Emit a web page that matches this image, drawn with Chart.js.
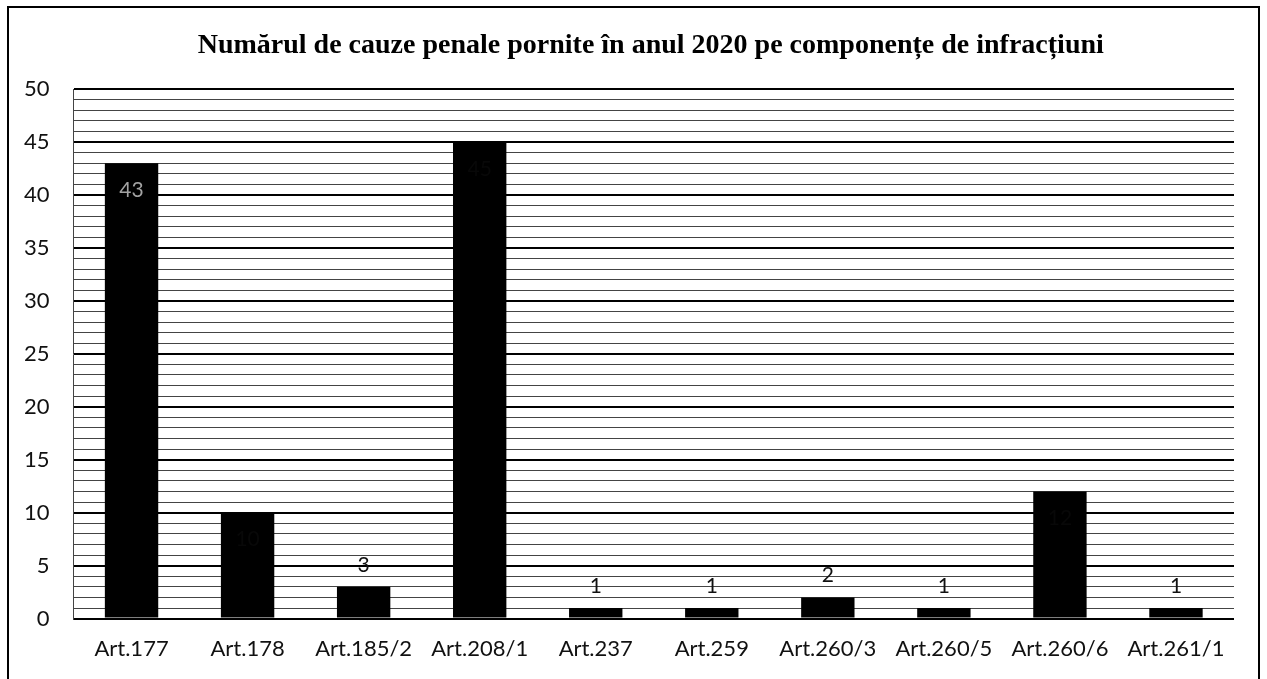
<!DOCTYPE html>
<html>
<head>
<meta charset="utf-8">
<script src="https://cdn.jsdelivr.net/npm/chart.js@4.4.1/dist/chart.umd.min.js"></script>
<style>
    html, body { margin: 0; padding: 0; background: #fff; overflow: hidden; }
    .frame {
        position: absolute; left: 7px; top: 6px;
        width: 1249px; height: 690px;
        border: 2px solid #000;
        background: #fff;
        overflow: hidden;
    }
    .chart-box { position: absolute; left: -9px; top: 0; width: 1256px; height: 677px; }
</style>
</head>
<body>
<div class="frame">
    <div class="chart-box"><canvas id="cauze-chart"></canvas></div>
</div>
<script>
const categories = ['Art.177', 'Art.178', 'Art.185/2', 'Art.208/1', 'Art.237', 'Art.259', 'Art.260/3', 'Art.260/5', 'Art.260/6', 'Art.261/1'];
const cauzeValues = [43, 10, 3, 45, 1, 1, 2, 1, 12, 1];
const yTickLabels = [0, 5, 10, 15, 20, 25, 30, 35, 40, 45, 50];
const chartTitle = 'Numărul de cauze penale pornite în anul 2020 pe componențe de infracțiuni';

// titlul, centrat deasupra zonei graficului
const titlePlugin = {
    id: 'centeredTitle',
    afterDraw(chart) {
        const ctx = chart.ctx;
        const area = chart.chartArea;
        ctx.save();
        ctx.font = 'bold 28px "Liberation Serif"';
        ctx.fillStyle = '#000';
        ctx.textAlign = 'center';
        ctx.textBaseline = 'middle';
        ctx.fillText(chartTitle, (area.left + area.right) / 2 - 3, 38);
        ctx.restore();
    }
};

// etichete de valori: deasupra barelor mici, in interiorul celor mari
const valueLabelPlugin = {
    id: 'valueLabels',
    afterDatasetsDraw(chart) {
        const ctx = chart.ctx;
        const meta = chart.getDatasetMeta(0);
        ctx.save();
        ctx.font = '21px Lato';
        ctx.textAlign = 'center';
        ctx.textBaseline = 'middle';
        meta.data.forEach((bar, i) => {
            const v = cauzeValues[i];
            if (v >= 10) {
                // pe scanare doar eticheta "43" se mai vede in bara
                ctx.fillStyle = v > 40 && v < 45 ? 'rgba(190,190,190,0.85)' : '#080808';
                ctx.fillText(String(v), bar.x, bar.y + 27);
            } else {
                ctx.fillStyle = '#111';
                ctx.fillText(String(v), bar.x, bar.y - 22);
            }
        });
        ctx.restore();
    }
};

function renderCauzeChart() {
    const ctx = document.getElementById('cauze-chart');
    if (!ctx) return;

    new Chart(ctx, {
        type: 'bar',
        data: {
            labels: categories,
            datasets: [{
                label: 'Cauze penale',
                data: cauzeValues,
                backgroundColor: '#000',
                borderWidth: 0,
                barPercentage: 0.46,
                categoryPercentage: 1
            }]
        },
        options: {
            responsive: true,
            maintainAspectRatio: false,
            animation: false,
            layout: { padding: { left: 0, right: 22, top: 81, bottom: 6 } },
            scales: {
                x: {
                    grid: { display: false, drawTicks: false },
                    border: { display: false },
                    ticks: {
                        color: '#111',
                        font: { family: 'Lato', size: 22 },
                        padding: 17,
                        maxRotation: 0,
                        autoSkip: false
                    }
                },
                y: {
                    min: 0,
                    max: 50,
                    grid: {
                        drawTicks: false,
                        color: function(c) {
                            return c.tick && c.tick.value % 5 === 0 ? '#000' : '#444';
                        },
                        lineWidth: function(c) {
                            return c.tick && c.tick.value % 5 === 0 ? 2 : 1;
                        }
                    },
                    border: { display: true, color: '#444', width: 1 },
                    ticks: {
                        stepSize: 1,
                        autoSkip: false,
                        color: '#111',
                        font: { family: 'Lato', size: 22 },
                        padding: 24,
                        callback: function(value) {
                            return yTickLabels.includes(value) ? String(value) : '';
                        }
                    }
                }
            },
            plugins: {
                legend: { display: false },
                tooltip: { enabled: false },
                title: { display: false }
            }
        },
        plugins: [valueLabelPlugin, titlePlugin]
    });
}

renderCauzeChart();
</script>
</body>
</html>
